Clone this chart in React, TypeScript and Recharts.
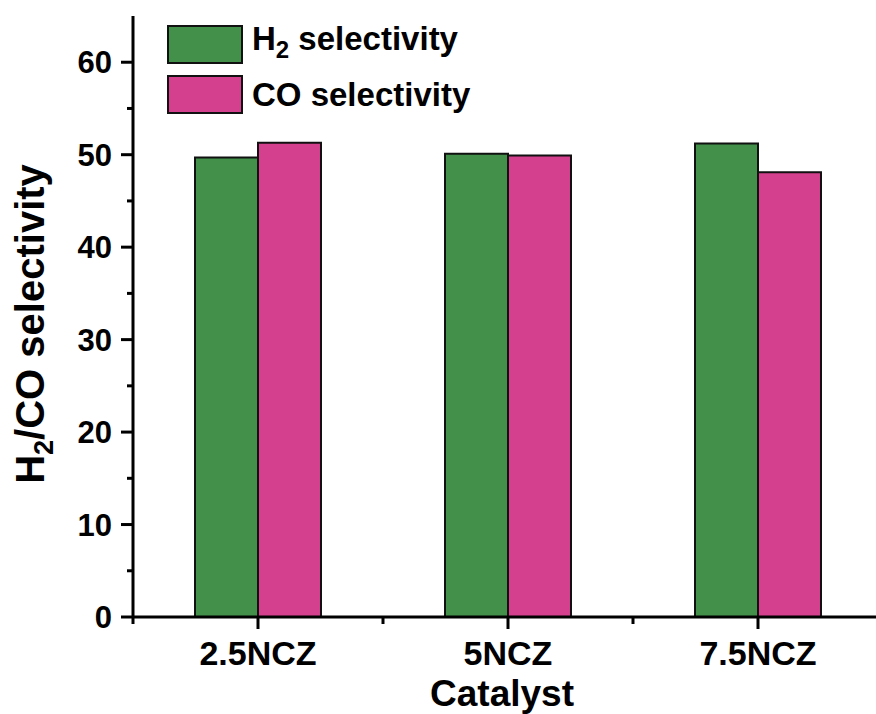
import React from 'react';
import { BarChart, Bar, XAxis, YAxis, Legend } from 'recharts';

const catalysts = ['2.5NCZ', '5NCZ', '7.5NCZ'];
const h2Selectivity = [49.7, 50.1, 51.2];
const coSelectivity = [51.3, 49.9, 48.1];
const yTicks = [0, 5, 10, 15, 20, 25, 30, 35, 40, 45, 50, 55, 60];

const GREEN = '#42904a';
const PINK = '#d4408d';
const FONT = '"Liberation Sans", Arial, sans-serif';

const CHART_W = 900;
const CHART_H = 714;
const LEFT = 133;
const RIGHT_MARGIN = 17;
const BAND = (CHART_W - RIGHT_MARGIN - LEFT) / catalysts.length;

const data = catalysts.map((name, i) => ({
  name,
  h2: h2Selectivity[i],
  co: coSelectivity[i],
}));

const YTick = ({ x, y, payload }: any) => {
  const major = payload.value % 10 === 0;
  return (
    <g>
      <line x1={x} x2={x - (major ? 12 : 6)} y1={y} y2={y} stroke="#000" strokeWidth={3} />
      {major && (
        <text x={x - 21} y={y} dy={11} textAnchor="end" fontSize={31} fontWeight="bold" fontFamily={FONT} fill="#000">
          {payload.value}
        </text>
      )}
    </g>
  );
};

const XTick = ({ x, y, payload, index }: any) => (
  <g>
    <line x1={x} x2={x} y1={y} y2={y + 12} stroke="#000" strokeWidth={3} />
    <line x1={x - BAND / 2} x2={x - BAND / 2} y1={y} y2={y + 7} stroke="#000" strokeWidth={3} />
    {index === catalysts.length - 1 && (
      <line x1={x + BAND / 2} x2={x + BAND / 2} y1={y} y2={y + 7} stroke="#000" strokeWidth={3} />
    )}
    <text x={x} y={y + 48} textAnchor="middle" fontSize={34} fontWeight="bold" fontFamily={FONT} fill="#000">
      {payload.value}
    </text>
  </g>
);

const YLabel = ({ viewBox }: any) => {
  const cy = 324;
  return (
    <text
      x={44}
      y={cy}
      transform={`rotate(-90, 44, ${cy})`}
      textAnchor="middle"
      fontSize={40}
      fontWeight="bold"
      fontFamily={FONT}
      fill="#000"
    >
      H<tspan dy={9} fontSize={27}>2</tspan>
      <tspan dy={-9}>/CO selectivity</tspan>
    </text>
  );
};

const XLabel = ({ viewBox }: any) => (
  <text
    x={viewBox.x + viewBox.width / 2 - 6}
    y={706}
    textAnchor="middle"
    fontSize={37}
    fontWeight="bold"
    fontFamily={FONT}
    fill="#000"
  >
    Catalyst
  </text>
);

const LegendBox = () => {
  const items = [
    { color: GREEN, label: <>H<sub style={{ fontSize: 24 }}>2</sub> selectivity</> },
    { color: PINK, label: <>CO selectivity</> },
  ];
  return (
    <div style={{ fontFamily: FONT, fontWeight: 'bold', fontSize: 33, color: '#000' }}>
      {items.map((it, i) => (
        <div key={i} style={{ display: 'flex', alignItems: 'center', height: 50 }}>
          <div
            style={{
              width: 72,
              height: 35,
              background: it.color,
              border: '2px solid #111',
              marginRight: 9,
            }}
          />
          <span style={{ whiteSpace: 'nowrap', lineHeight: '33px' }}>{it.label}</span>
        </div>
      ))}
    </div>
  );
};

export default function App() {
  return (
    <div style={{ position: 'absolute', left: 0, top: 0, width: 876, height: 714, overflow: 'hidden', background: '#fff' }}>
      <BarChart
        width={CHART_W}
        height={CHART_H}
        data={data}
        margin={{ top: 16, right: RIGHT_MARGIN, left: 0, bottom: 0 }}
        barCategoryGap="24.8%"
        barGap={0}
      >
        <XAxis
          dataKey="name"
          height={97}
          axisLine={{ stroke: '#000', strokeWidth: 3 }}
          tickLine={false}
          tickSize={0}
          tickMargin={0}
          tick={<XTick />}
          interval={0}
          label={{ content: <XLabel /> } as any}
        />
        <XAxis
          xAxisId="top"
          dataKey="name"
          orientation="top"
          height={0}
          tick={false}
          tickLine={false}
          axisLine={{ stroke: '#000', strokeWidth: 3 }}
        />
        <YAxis
          width={LEFT}
          domain={[0, 65]}
          ticks={yTicks}
          interval={0}
          axisLine={{ stroke: '#000', strokeWidth: 3 }}
          tickLine={false}
          tickSize={0}
          tickMargin={0}
          tick={<YTick />}
          label={{ content: <YLabel /> } as any}
        />
        <Legend
          layout="vertical"
          align="center"
          verticalAlign="middle"
          content={<LegendBox />}
          wrapperStyle={{ top: 19, left: 167, width: 400 }}
        />
        <Bar dataKey="h2" fill={GREEN} stroke="#111" strokeWidth={2} isAnimationActive={false} />
        <Bar dataKey="co" fill={PINK} stroke="#111" strokeWidth={2} isAnimationActive={false} />
      </BarChart>
    </div>
  );
}
